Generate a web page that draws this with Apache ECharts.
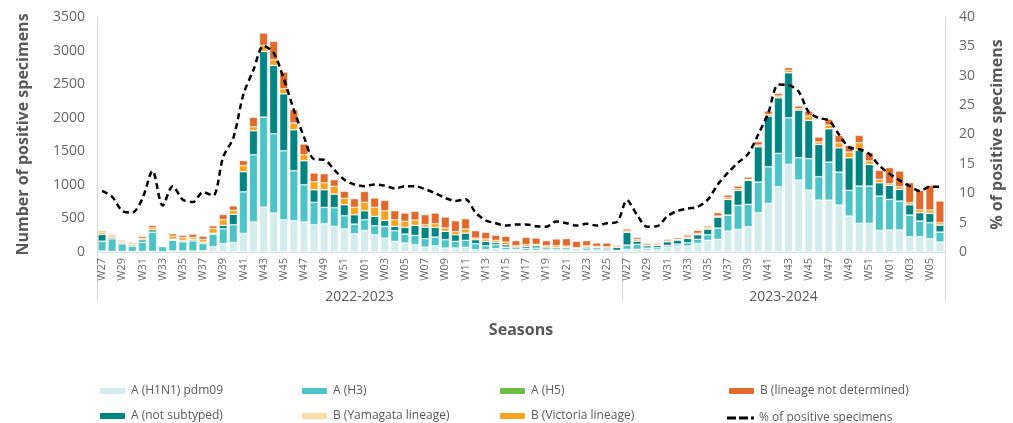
<!DOCTYPE html>
<html>
<head>
<meta charset="utf-8">
<script src="https://cdn.jsdelivr.net/npm/echarts@6.0.0/dist/echarts.min.js"></script>
<style>
  html, body { margin: 0; padding: 0; background: #fff; }
  #divChart { width: 1013px; height: 423px; }
</style>
</head>
<body>
<div id="divChart"></div>
<script>
// semaines, saison 2022-2023 puis 2023-2024
var weeks = [
  'W27','W28','W29','W30','W31','W32','W33','W34','W35','W36','W37','W38','W39','W40','W41','W42','W43','W44','W45','W46','W47','W48','W49','W50','W51','W52',
  'W01','W02','W03','W04','W05','W06','W07','W08','W09','W10','W11','W12','W13','W14','W15','W16','W17','W18','W19','W20','W21','W22','W23','W24','W25','W26',
  'W27','W28','W29','W30','W31','W32','W33','W34','W35','W36','W37','W38','W39','W40','W41','W42','W43','W44','W45','W46','W47','W48','W49','W50','W51','W52',
  'W01','W02','W03','W04','W05','W06'
];
var seasons = ['2022-2023', '2023-2024'];
var seasonLength = [52, 32];

var h1n1 = [15,10,10,8,10,10,5,15,15,15,20,80,127,142,277,447,670,581,481,467,447,407,422,382,347,273,
  323,258,208,159,134,109,74,94,60,60,70,35,35,50,35,25,25,25,20,20,20,20,20,20,15,10,
  40,40,30,35,74,89,89,129,174,189,313,337,377,586,725,973,1305,1072,923,774,774,700,536,427,427,323,
  328,328,228,228,199,149];
var h3 = [147,187,112,79,137,287,75,162,137,152,107,185,220,265,620,1002,1340,1181,1028,744,555,333,243,278,194,144,
  159,134,174,159,134,139,125,129,124,99,104,89,59,59,39,20,30,35,25,25,25,15,30,25,20,15,
  64,74,30,30,25,30,50,60,84,168,238,358,333,456,545,496,695,332,467,348,566,491,382,556,556,511,
  456,431,323,234,238,149];
var h5 = [0,0,0,0,0,0,10,0,0,0,0,0,0,0,0,0,0,0,0,0,0,0,0,0,0,0,
  0,0,0,0,0,0,0,0,0,0,0,0,0,0,0,0,0,0,0,0,0,0,0,0,0,0,
  0,0,0,0,0,0,0,0,0,0,0,0,0,0,0,0,0,0,0,0,0,0,0,0,0,0,
  0,0,0,0,0,0];
var notSubtyped = [100,25,15,20,35,35,5,10,15,20,20,15,50,155,300,358,978,1017,848,610,358,188,263,204,164,139,
  133,139,89,64,99,149,173,144,124,99,109,60,65,35,35,29,29,34,29,24,24,20,24,24,25,44,
  189,50,34,34,55,60,64,69,84,164,233,223,357,526,755,829,670,710,570,481,496,362,486,536,322,198,
  209,174,154,124,139,104];
var yamagata = [0,0,0,0,0,0,0,5,5,0,0,0,0,0,0,0,0,0,0,0,0,0,0,0,0,0,
  0,0,0,0,0,0,0,0,0,0,0,0,0,0,0,0,0,0,0,0,0,0,0,0,0,0,
  0,0,0,0,0,0,0,0,0,0,0,0,0,0,0,0,0,0,0,0,0,0,0,0,0,0,
  0,0,0,0,0,0];
var victoria = [30,20,15,15,20,30,0,45,40,30,40,70,85,60,90,59,89,85,75,100,89,119,104,114,94,109,
  125,134,144,99,90,79,35,55,49,45,59,24,35,30,40,20,25,20,20,25,20,10,20,15,19,10,
  20,25,10,10,10,10,20,20,20,15,25,25,15,25,25,25,35,20,65,35,55,75,85,109,50,50,
  24,40,30,44,49,35];
var bUndetermined = [20,20,20,20,30,35,0,35,35,50,50,40,75,65,75,139,184,273,248,198,159,129,134,99,104,129,
  163,139,154,134,124,130,149,159,164,163,154,110,99,74,84,75,109,94,75,100,110,94,75,50,55,20,
  30,29,25,20,25,24,30,45,25,50,40,40,35,50,49,39,40,40,74,74,84,109,99,109,124,134,
  239,233,297,288,368,322];
var pctPositive = [10.4,9.4,7.0,6.7,9.1,13.8,7.9,11.2,8.9,8.5,10.2,9.6,16.2,19.4,26.8,31.0,35.1,33.9,29.5,24.2,19.6,15.8,15.7,14.0,12.3,11.5,
  11.2,11.5,11.3,10.8,11.2,11.2,10.7,10.0,9.2,8.7,9.0,6.7,5.4,4.9,4.5,4.7,4.7,4.4,4.3,5.2,4.9,4.5,4.8,4.5,4.9,5.1,
  8.8,6.3,4.3,4.4,6.1,7.0,7.4,7.7,8.9,11.5,13.5,15.2,16.7,20.0,23.7,28.5,28.4,27.3,23.8,22.8,22.4,20.0,17.8,17.5,16.7,14.7,
  13.3,12.2,11.2,10.4,11.1,11.1];

var fontFamily = '"Open Sans", "Noto Sans", "DejaVu Sans", sans-serif';
var textGrey = '#595959';
var lineGrey = '#d9d9d9';

function barSeries(name, data, color) {
  return {
    name: name, type: 'bar', stack: 'total', data: data,
    barCategoryGap: '20%',
    itemStyle: { color: color, borderColor: '#ffffff', borderWidth: 0.5 }
  };
}

var seasonMid = [seasonLength[0] / 2, seasonLength[0] + seasonLength[1] / 2];
var seasonEdges = [0, seasonLength[0], seasonLength[0] + seasonLength[1]];

/**
 * une case de la légende (une ligne, une colonne)
 */
function legendCell(left, top, item, itemHeight) {
  return {
    orient: 'horizontal', left: left, top: top, padding: 0,
    itemWidth: 27, itemHeight: itemHeight || 8,
    data: [item],
    textStyle: { color: textGrey, fontSize: 12, fontFamily: fontFamily }
  };
}

var dashIcon = 'path://M0,0h9v3h-9z M12,0h9v3h-9z M24,0h3v3h-3z';

var option = {
  animation: false,
  textStyle: { fontFamily: fontFamily },
  grid: { left: 97, right: 68, top: 17, bottom: 171 },
  legend: [
    legendCell(98, 385, 'A (H1N1) pdm09'),
    legendCell(300, 385, 'A (H3)'),
    legendCell(498, 385, 'A (H5)'),
    legendCell(727, 385, 'B (lineage not determined)'),
    legendCell(98, 410, 'A (not subtyped)'),
    legendCell(300, 410, 'B (Yamagata lineage)'),
    legendCell(498, 410, 'B (Victoria lineage)'),
    legendCell(727, 412, { name: '% of positive specimens', icon: dashIcon }, 3)
  ],
  xAxis: [{
    type: 'category', data: weeks,
    axisLine: { lineStyle: { color: lineGrey } },
    axisTick: { show: false },
    axisLabel: { interval: 1, rotate: 90, fontSize: 11, color: '#666', margin: 6 }
  }, {
    type: 'value', min: 0, max: weeks.length, position: 'bottom',
    axisLine: { show: false },
    splitLine: { show: false },
    axisTick: { show: true, length: 48, customValues: seasonEdges, lineStyle: { color: lineGrey } },
    axisLabel: {
      customValues: seasonMid, margin: 38, fontSize: 14, color: textGrey,
      formatter: function (v) { return v < seasonLength[0] ? seasons[0] : seasons[1]; }
    },
    name: 'Seasons', nameLocation: 'middle', nameGap: 70,
    nameTextStyle: { fontSize: 16, fontWeight: 'bold', color: textGrey }
  }],
  yAxis: [{
    type: 'value', min: 0, max: 3500, interval: 500,
    name: 'Number of positive specimens', nameLocation: 'middle', nameGap: 66, nameRotate: 90,
    nameTextStyle: { fontSize: 16, fontWeight: 'bold', color: textGrey },
    axisLine: { show: true, lineStyle: { color: lineGrey } },
    axisTick: { show: false },
    axisLabel: { fontSize: 14, color: '#666', margin: 12, formatter: function (v) { return String(v); } },
    splitLine: { show: false }
  }, {
    type: 'value', min: 0, max: 40, interval: 5, position: 'right',
    name: '% of positive specimens', nameLocation: 'middle', nameGap: 44, nameRotate: 90,
    nameTextStyle: { fontSize: 16, fontWeight: 'bold', color: textGrey },
    axisLine: { show: true, lineStyle: { color: lineGrey } },
    axisTick: { show: false },
    axisLabel: { fontSize: 14, color: '#666', margin: 14 },
    splitLine: { show: false }
  }],
  series: [
    barSeries('A (H1N1) pdm09', h1n1, '#d3ecec'),
    barSeries('A (H3)', h3, '#4cc3c6'),
    barSeries('A (H5)', h5, '#6cbd45'),
    barSeries('A (not subtyped)', notSubtyped, '#008582'),
    barSeries('B (Yamagata lineage)', yamagata, '#fcdca6'),
    barSeries('B (Victoria lineage)', victoria, '#f7a21c'),
    barSeries('B (lineage not determined)', bUndetermined, '#e0692b'),
    {
      name: '% of positive specimens', type: 'line', yAxisIndex: 1, data: pctPositive,
      smooth: 0.3, symbol: 'none', z: 5,
      itemStyle: { color: '#000' },
      lineStyle: { color: '#000', width: 2.5, type: [6, 4] }
    }
  ]
};

var divChart = echarts.init(document.getElementById('divChart'));
divChart.setOption(option);
</script>
</body>
</html>
